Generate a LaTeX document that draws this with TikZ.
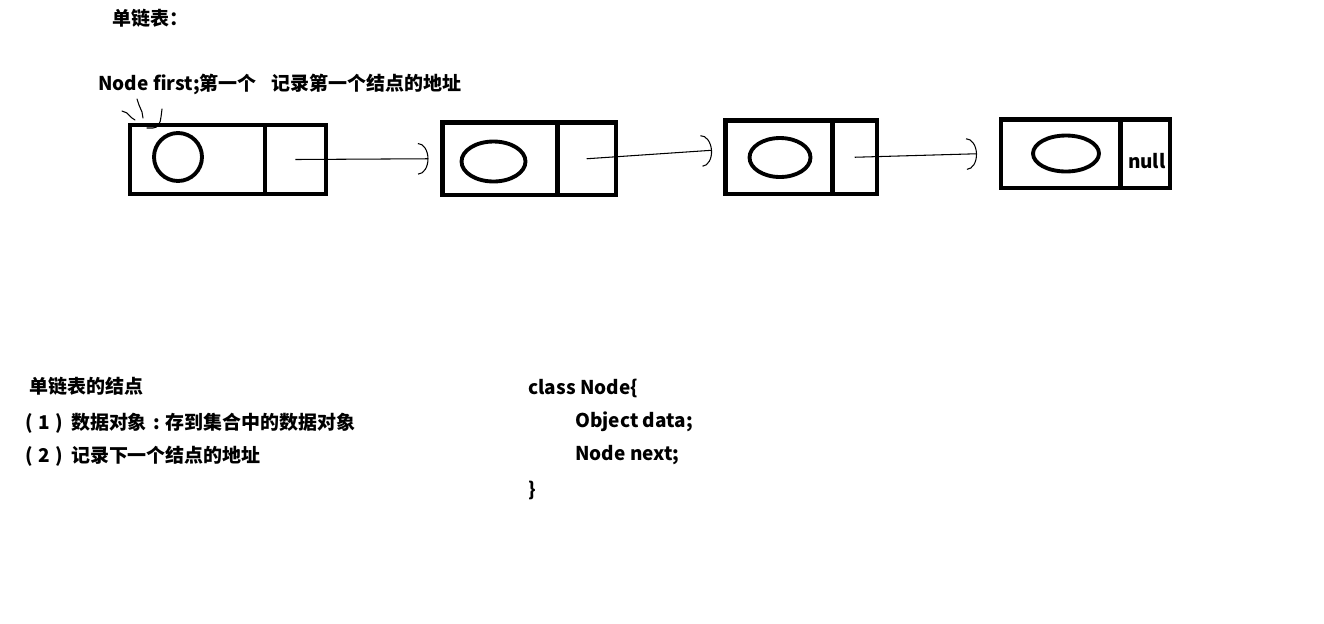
\documentclass[tikz,border=0pt]{standalone}
\usepackage{fontspec}
\setmainfont{Noto Sans CJK SC}
\usetikzlibrary{shapes.geometric, arrows.meta, positioning}
\tikzstyle{datacell} = [rectangle, draw, line width=2.8pt, inner sep=0pt, outer sep=0pt]
\tikzstyle{nextcell} = [datacell]
\tikzstyle{value} = [ellipse, draw, line width=2.2pt, inner sep=0pt]
\tikzstyle{link} = [line width=0.6pt, -{Arc Barb[length=6pt, width=18pt, line width=0.6pt]}]
\tikzstyle{scribble} = [line width=0.6pt, line cap=round]
\tikzstyle{caption} = [anchor=west, inner sep=0pt, font=\fontsize{10.8}{13}\selectfont\bfseries]

\begin{document}
\begin{tikzpicture}[x=0.02cm, y=-0.02cm, node distance=0pt]
  \useasboundingbox (0,0) rectangle (1324,623);
  % the four list nodes
  \node (d1) [datacell, minimum width=2.7cm, minimum height=1.38cm] at (197.5,159.5) {};
  \node (n1) [nextcell, minimum width=1.22cm, minimum height=1.38cm, right=of d1] {};
  \node (d2) [datacell, minimum width=2.3cm, minimum height=1.45cm] at (500,158.75) {};
  \node (n2) [nextcell, minimum width=1.17cm, minimum height=1.45cm, right=of d2] {};
  \node (d3) [datacell, minimum width=2.14cm, minimum height=1.47cm] at (779,157.25) {};
  \node (n3) [nextcell, minimum width=0.89cm, minimum height=1.47cm, right=of d3] {};
  \node (d4) [datacell, minimum width=2.39cm, minimum height=1.37cm] at (1060.75,153.75) {};
  \node (n4) [nextcell, minimum width=0.99cm, minimum height=1.37cm, right=of d4] {};
  \node (v1) [value, circle, minimum size=0.96cm] at (178,157) {};
  \node (v2) [value, minimum width=1.28cm, minimum height=0.8cm] at (493.5,161.5) {};
  \node (v3) [value, minimum width=1.22cm, minimum height=0.78cm] at (780,157.5) {};
  \node (v4) [value, minimum width=1.32cm, minimum height=0.72cm] at (1066,153.5) {};
  \node (nul) [caption, anchor=center] at ([xshift=0.03cm, yshift=-0.14cm]n4.center) {null};
  \draw [link] (n1.center) -- ([xshift=-0.28cm]d2.west);
  \draw [link] (n2.center) -- ([xshift=-0.27cm, yshift=0.14cm]d3.west);
  \draw [link] (n3.center) -- ([xshift=-0.48cm]d4.west);
  % head pointer
  \node (title) [caption] at (112,18) {单链表：};
  \node (first) [caption] at (98,84) {Node first;第一个\hspace{0.8em}记录第一个结点的地址};
  \draw [scribble] (122,111) -- (127,113) -- (132,118) -- (135,120);
  \draw [scribble] (137,99) -- (139,105) -- (142,112) -- (143,118);
  \draw [scribble] (162,109) -- (161,117) to[out=-95, in=0] (153,128) -- (147,128);
  % notes
  \node (nodes) [caption] at (29,386) {单链表的结点};
  \node (item1) [caption] at (25,423) {(\hspace{0.3em}1\hspace{0.3em})\hspace{0.4em}数据对象\makebox[1em]{:}存到集合中的数据对象};
  \node (item2) [caption] at (25,456) {(\hspace{0.3em}2\hspace{0.3em})\hspace{0.4em}记录下一个结点的地址};
  \node (cls) [caption] at (528,388) {class Node\{};
  \node (fld1) [caption] at (575,422) {Object data;};
  \node (fld2) [caption] at (575,455) {Node next;};
  \node (cend) [caption] at (528,490) {\}};
\end{tikzpicture}
\end{document}
